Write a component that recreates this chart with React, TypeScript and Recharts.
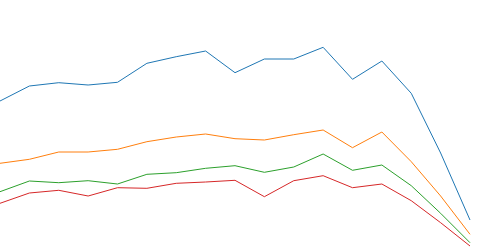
import React from "react";
import { LineChart, Line, XAxis, YAxis } from "recharts";

const categories = ["1","2","3","4","5","6","7","8","9","10","11","12","13","14","15","16","17"];
const seriesA = [149, 164, 167.3, 165, 167.7, 186.7, 193.3, 199, 177.3, 191, 191, 202.7, 170.7, 189, 156.7, 97, 30];
const seriesB = [86.7, 90.7, 98, 98, 100.7, 108.3, 113, 116, 111.3, 110, 115.3, 120, 102.3, 118, 88.3, 54, 15.7];
const seriesC = [58.3, 69, 67.3, 69.3, 66, 75.7, 77.3, 81.7, 84.3, 77.7, 83, 96, 79.7, 85, 64.3, 36.7, 7.3];
const seriesD = [46.7, 57, 59.7, 54, 62.3, 61.7, 66.7, 68, 69.7, 53.3, 69.3, 74.3, 62.3, 66, 49.3, 27.3, 4];

const data = categories.map((c, i) => ({
  name: c,
  a: seriesA[i],
  b: seriesB[i],
  c: seriesC[i],
  d: seriesD[i],
}));

export default function App() {
  return (
    <div style={{ position: "absolute", left: 0, top: 0, width: 492, height: 250, background: "#fff" }}>
      <LineChart width={492} height={250} data={data} margin={{ top: 0, right: 22, bottom: 0, left: 0 }}>
        <XAxis dataKey="name" hide padding={{ left: 0, right: 0 }} />
        <YAxis hide domain={[0, 250]} />
        <Line type="linear" dataKey="a" stroke="#1f77b4" strokeWidth={1} dot={false} activeDot={false} isAnimationActive={false} />
        <Line type="linear" dataKey="b" stroke="#ff7f0e" strokeWidth={1} dot={false} activeDot={false} isAnimationActive={false} />
        <Line type="linear" dataKey="c" stroke="#2ca02c" strokeWidth={1} dot={false} activeDot={false} isAnimationActive={false} />
        <Line type="linear" dataKey="d" stroke="#d62728" strokeWidth={1} dot={false} activeDot={false} isAnimationActive={false} />
      </LineChart>
    </div>
  );
}
